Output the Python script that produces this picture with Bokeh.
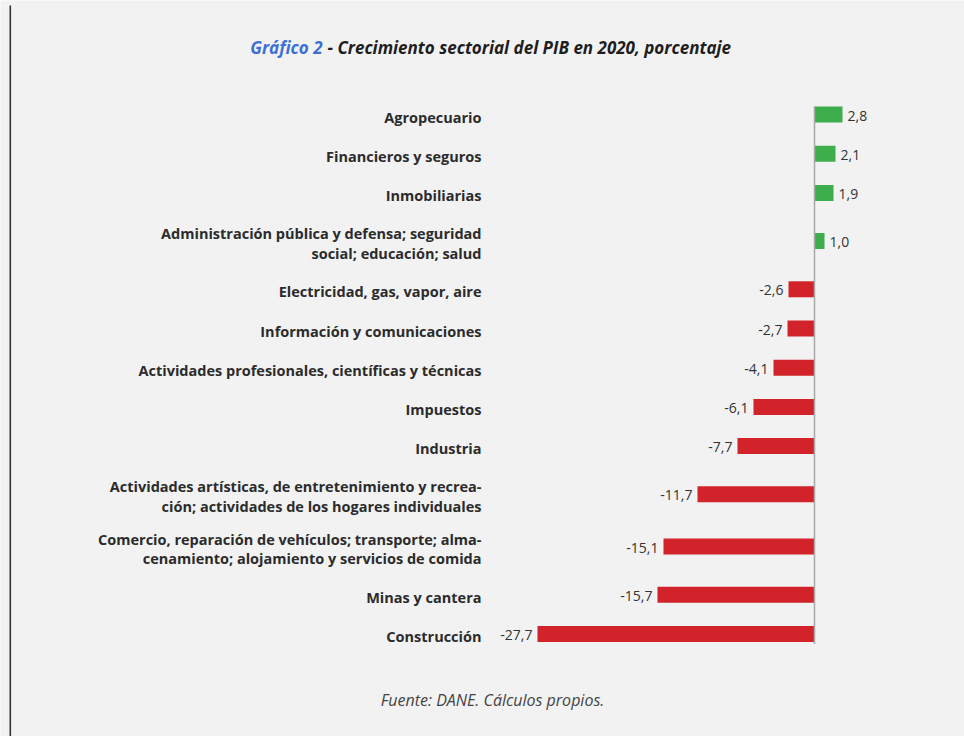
from bokeh.plotting import figure
from bokeh.models import Range1d, Label, BoxAnnotation, ColumnDataSource
from bokeh.embed import file_html
from bokeh.resources import INLINE
from bokeh.core.properties import value

# ---------------- data ----------------
sectores = [
    "Agropecuario",
    "Financieros y seguros",
    "Inmobiliarias",
    "Administración pública y defensa; seguridad\nsocial; educación; salud",
    "Electricidad, gas, vapor, aire",
    "Información y comunicaciones",
    "Actividades profesionales, científicas y técnicas",
    "Impuestos",
    "Industria",
    "Actividades artísticas, de entretenimiento y recrea-\nción; actividades de los hogares individuales",
    "Comercio, reparación de vehículos; transporte; alma-\ncenamiento; alojamiento y servicios de comida",
    "Minas y cantera",
    "Construcción",
]
valores = [2.8, 2.1, 1.9, 1.0, -2.6, -2.7, -4.1, -6.1, -7.7, -11.7, -15.1, -15.7, -27.7]
titulo_a = "Gráfico 2"
titulo_b = "- Crecimiento sectorial del PIB en 2020, porcentaje"
fuente = "Fuente: DANE. Cálculos propios."

# ---------------- style / layout ----------------
W, H = 964, 736
PX = 10.0          # pixels per percentage point
ZERO_PX = 814      # canvas x of the zero line
BG = "#F2F2F3"
VERDE = "#3DAE4B"
ROJO = "#D2232A"
TXT = "#2B2B2B"
FONT = "Open Sans"

x_start = -ZERO_PX / PX
x_end = (W - ZERO_PX) / PX

def px_to_x(px):
    return x_start + px / PX

# vertical positions (pixels from top) derived from the number of label lines
extra = [s.count("\n") for s in sectores]
ys = [114.0]
for i in range(1, len(sectores)):
    a, b = extra[i - 1], extra[i]
    ys.append(ys[-1] + 39.2 + 9.0 * max(a, b) + 4.0 * min(a, b))

p = figure(width=W, height=H, x_range=Range1d(x_start, x_end), y_range=Range1d(H, 0),
           output_backend="svg", toolbar_location=None, min_border=0,
           x_axis_location=None, y_axis_location=None)
p.grid.visible = False
p.outline_line_color = None
p.background_fill_color = BG
p.border_fill_color = BG

# left border line
p.add_layout(BoxAnnotation(left=px_to_x(9), right=px_to_x(10.6), top=5, bottom=H,
                           fill_color="#333333", fill_alpha=1, line_color=None))

colores = [VERDE if v >= 0 else ROJO for v in valores]
src = ColumnDataSource(dict(y=ys, v=valores, c=colores,
                            lab=[f"{v:.1f}".replace(".", ",") for v in valores],
                            s=sectores))

p.hbar(y="y", left=0, right="v", height=16, fill_color="c", line_color=None, source=src)

# zero line
p.segment(x0=[0], x1=[0], y0=[ys[0] - 8], y1=[ys[-1] + 10], line_color="#A8A8A8", line_width=1.5)

# value labels
pos = [i for i, v in enumerate(valores) if v >= 0]
neg = [i for i, v in enumerate(valores) if v < 0]
for idx, align, off in ((pos, "left", 5), (neg, "right", -5)):
    p.text(x=[valores[i] for i in idx], y=[ys[i] for i in idx],
           text=[src.data["lab"][i] for i in idx], x_offset=off, y_offset=1,
           text_align=align, text_baseline="middle", text_font=value(FONT),
           text_font_size="14px", text_color="#333333")

# category labels
p.text(x=px_to_x(481), y="y", text="s", source=src, text_align="right",
       text_baseline="middle", text_font=value(FONT), text_font_size="14.5px",
       text_font_style="bold", text_color=TXT, text_line_height=1.05, y_offset=2.5)

# title
SPLIT = 322
p.add_layout(Label(x=px_to_x(SPLIT), y=47, text=titulo_a, text_align="right",
                   text_baseline="middle", text_font=FONT, text_font_size="17px",
                   text_font_style="bold italic", text_color="#3D6FD6"))
p.add_layout(Label(x=px_to_x(SPLIT + 5), y=47, text=titulo_b, text_align="left",
                   text_baseline="middle", text_font=FONT, text_font_size="17px",
                   text_font_style="bold italic", text_color="#1E1E1E"))

# footnote
p.add_layout(Label(x=px_to_x(492), y=699, text=fuente, text_align="center",
                   text_baseline="middle", text_font=FONT, text_font_size="16px",
                   text_font_style="italic", text_color="#444444"))

open("out.html", "w").write(file_html(p, INLINE))
